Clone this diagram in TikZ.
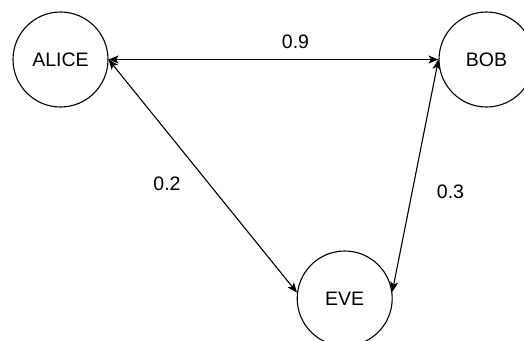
\documentclass[tikz,border=0pt]{standalone}
\usepackage{fontspec}
\setmainfont{Liberation Sans}
\usetikzlibrary{arrows.meta}

\tikzset{
  party/.style={circle, draw=black, line width=1.1pt, minimum size=95pt,
                inner sep=0pt, font=\fontsize{19.5}{22}\selectfont},
  weight/.style={font=\fontsize{19.5}{22}\selectfont, inner sep=0pt},
  link/.style={line width=1.1pt, {Stealth[length=10pt,width=8pt,inset=2.5pt]}-{Stealth[length=10pt,width=8pt,inset=2.5pt]}}
}

\begin{document}
\begin{tikzpicture}[x=1pt, y=-1pt]
  \useasboundingbox (0,0) rectangle (524,340);
  \clip (0,0) rectangle (524,340);

  % the three parties
  \node[party] (alice) at (60.5,59.5)  {ALICE};
  \node[party] (bob)   at (486.5,59.5) {BOB};
  \node[party] (eve)   at (344.7,298.5) {EVE};

  % weighted two-way links
  \draw[link] (alice.east) -- (bob.west);
  \draw[link] (alice.east) -- (eve.173);
  \draw[link] (bob.west) -- (eve.8);

  % link weights
  \node[weight] (w-ab) at (295.5,41.3) {0.9};
  \node[weight] (w-ae) at (167,184)    {0.2};
  \node[weight] (w-be) at (450.5,192)  {0.3};
\end{tikzpicture}
\end{document}
